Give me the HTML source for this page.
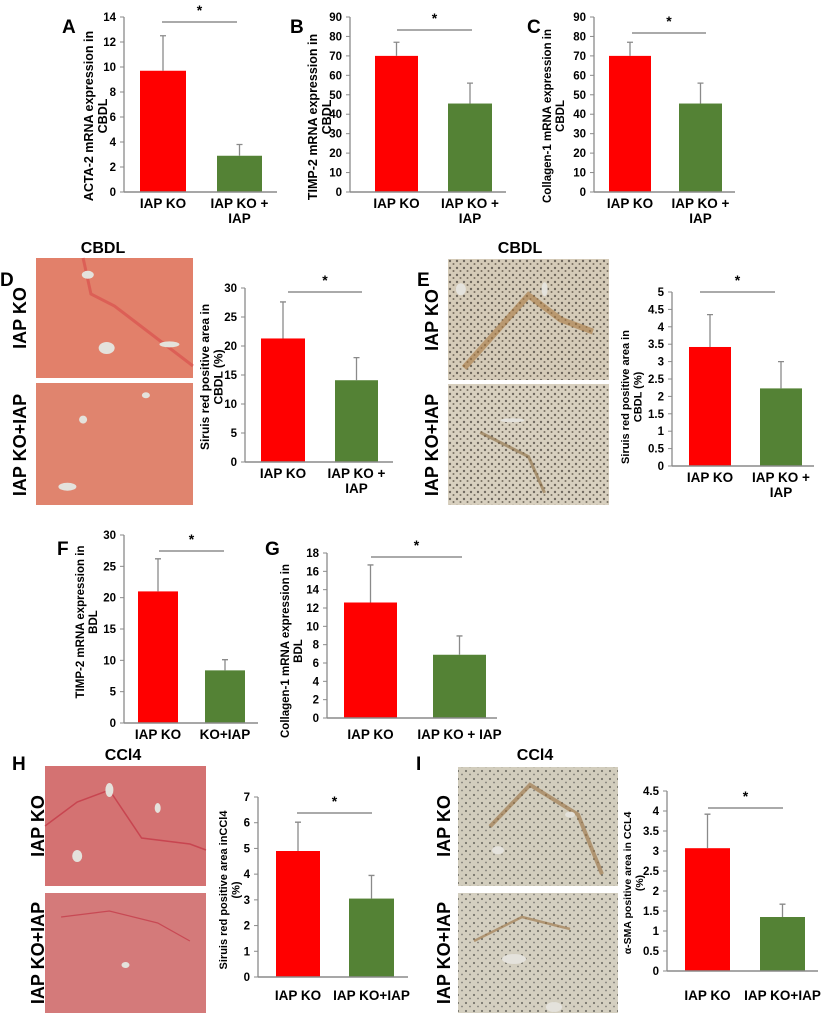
<!DOCTYPE html>
<html><head><meta charset="utf-8"><style>
body{margin:0;background:#fff;width:824px;height:1017px;overflow:hidden}
svg{display:block;font-family:"Liberation Sans",Arial,sans-serif;font-weight:bold}
</style></head><body>
<svg id="fig" width="824" height="1017" viewBox="0 0 824 1017">
<defs>
<pattern id="dots" width="7" height="7" patternUnits="userSpaceOnUse"><circle cx="2" cy="2" r="1.2" fill="#2a2520"/><circle cx="5.5" cy="5" r="1" fill="#3a3025"/></pattern>
<pattern id="dotsI" width="8" height="8" patternUnits="userSpaceOnUse"><circle cx="2" cy="3" r="1.1" fill="#3a3a35"/><circle cx="6" cy="6.5" r="0.9" fill="#444"/></pattern>
</defs>
</svg>
<script>
const svg=document.getElementById('fig');
const NS='http://www.w3.org/2000/svg';
function mk(tag,attrs,parent,text){const e=document.createElementNS(NS,tag);for(const k in attrs)e.setAttribute(k,attrs[k]);if(text!==undefined)e.textContent=text;(parent||svg).appendChild(e);return e;}

// ---------- data ----------
const valsA=[9.7,2.9], errA=[2.8,0.9];
const valsB=[70,45.5], errB=[7,10.5];
const valsC=[70,45.5], errC=[7,10.5];
const valsD=[21.3,14.1], errD=[6.3,3.9];
const valsE=[3.42,2.23], errE=[0.93,0.77];
const valsF=[21,8.4], errF=[5.2,1.7];
const valsG=[12.6,6.9], errG=[4.1,2.05];
const valsH=[4.9,3.05], errH=[1.12,0.9];
const valsI=[3.07,1.35], errI=[0.85,0.32];
const ticksA=[0,2,4,6,8,10,12,14];
const ticksB=[0,10,20,30,40,50,60,70,80,90];
const ticksD=[0,5,10,15,20,25,30];
const ticksE=[0,0.5,1,1.5,2,2.5,3,3.5,4,4.5,5];
const ticksF=[0,5,10,15,20,25,30];
const ticksG=[0,2,4,6,8,10,12,14,16,18];
const ticksH=[0,1,2,3,4,5,6,7];
const ticksI=[0,0.5,1,1.5,2,2.5,3,3.5,4,4.5];

const charts=[
 {id:'a',ax:124,y0:192,y1:17,max:14,end:277,bars:[[140,186],[217,262]],vals:valsA,err:errA,ticks:ticksA,sig:[162,237,22],title:["ACTA-2 mRNA expression in","CBDL"],tfs:12.5,tdx:31,tcy:116,cats:[["IAP KO"],["IAP KO +","IAP"]],cy:208},
 {id:'b',ax:350,y0:192,y1:17,max:90,end:506,bars:[[375,418],[448,492]],vals:valsB,err:errB,ticks:ticksB,sig:[397,472,30],title:["TIMP-2 mRNA expression in","CBDL"],tfs:12.5,tdx:33,tcy:117,cats:[["IAP KO"],["IAP KO +","IAP"]],cy:208},
 {id:'c',ax:594,y0:192,y1:17,max:90,end:735,bars:[[609,651],[679,722]],vals:valsC,err:errC,ticks:ticksB,sig:[632,706,33],title:["Collagen-1 mRNA expression in","CBDL"],tfs:11.5,tdx:43,tcy:116,cats:[["IAP KO"],["IAP KO +","IAP"]],cy:208},
 {id:'d',ax:245,y0:462,y1:288,max:30,end:393,bars:[[261,305],[335,378]],vals:valsD,err:errD,ticks:ticksD,sig:[288,362,292],title:["Siruis red positive area in","CBDL (%)"],tfs:12,tdx:36,tcy:377,cats:[["IAP KO"],["IAP KO +","IAP"]],cy:478},
 {id:'e',ax:672,y0:466,y1:292,max:5,end:814,bars:[[689,731],[760,802]],vals:valsE,err:errE,ticks:ticksE,sig:[700,775,292],title:["Siruis red positive area in","CBDL (%)"],tfs:11,tdx:43,tcy:397,cats:[["IAP KO"],["IAP KO +","IAP"]],cy:482},
 {id:'f',ax:124,y0:723,y1:535,max:30,end:258,bars:[[138,178],[205,245]],vals:valsF,err:errF,ticks:ticksF,sig:[159,224,551],title:["TIMP-2 mRNA expression in","BDL"],tfs:11.5,tdx:40,tcy:622,cats:[["IAP KO"],["KO+IAP"]],cy:739},
 {id:'g',ax:327,y0:718,y1:553,max:18,end:497,bars:[[344,397],[433,486]],vals:valsG,err:errG,ticks:ticksG,sig:[371,462,557],title:["Collagen-1 mRNA expression in","BDL"],tfs:11.5,tdx:38,tcy:651,cats:[["IAP KO"],["IAP KO + IAP"]],cy:739},
 {id:'h',ax:258,y0:977,y1:797,max:7,end:408,bars:[[276,320],[349,394]],vals:valsH,err:errH,ticks:ticksH,sig:[297,372,813],title:["Siruis red positive area inCCl4","(%)"],tfs:11,tdx:31,tcy:890,cats:[["IAP KO"],["IAP KO+IAP"]],cy:1000},
 {id:'i',ax:667,y0:971,y1:791,max:4.5,end:818,bars:[[685,730],[760,805]],vals:valsI,err:errI,ticks:ticksI,sig:[708,783,808],title:["α-SMA positive area in CCL4","(%)"],tfs:10.5,tdx:36,tcy:883,cats:[["IAP KO"],["IAP KO+IAP"]],cy:1000}
];
const colors=['#ff0000','#548235'];

charts.forEach(c=>{
 const g=mk('g',{});
 
 
 const y=v=>c.y0-(v/c.max)*(c.y0-c.y1);
 const ya=mk('line',{x1:c.ax,y1:c.y1,x2:c.ax,y2:c.y0,stroke:'#8a8a8a','stroke-width':1.3},g);
 
 
 c.ticks.forEach(t=>{
  mk('line',{x1:c.ax-4,y1:y(t),x2:c.ax,y2:y(t),stroke:'#8a8a8a','stroke-width':1},g);
  const tl=mk('text',{x:c.ax-8,y:y(t)+4,'text-anchor':'end','font-size':11.5,fill:'#000'},g,String(t));
  
  
 });
 c.vals.forEach((v,i)=>{
  const [x1,x2]=c.bars[i];
  const b=mk('rect',{x:x1,y:y(v),width:x2-x1,height:c.y0-y(v),fill:colors[i]},g);
  
  
  const cx=(x1+x2)/2, top=y(v+c.err[i]);
  const e=mk('path',{d:`M${cx},${y(v)}V${top}M${cx-3},${top}H${cx+3}`,stroke:'#8a8a8a','stroke-width':1.3,fill:'none'},g);
  
  
  c.cats[i].forEach((ln,k)=>{
   const t=mk('text',{x:cx,y:c.cy+k*15,'text-anchor':'middle','font-size':13.5,fill:'#000'},g,ln);
   
   
  });
 });
 const xa=mk('line',{x1:c.ax,y1:c.y0,x2:c.end,y2:c.y0,stroke:'#8a8a8a','stroke-width':1.5},g);
 
 
 const s=mk('line',{x1:c.sig[0],y1:c.sig[2],x2:c.sig[1],y2:c.sig[2],stroke:'#777','stroke-width':1.3},g);
 
 
 const st=mk('text',{x:(c.sig[0]+c.sig[1])/2,y:c.sig[2]-7,'text-anchor':'middle','font-size':14,fill:'#000'},g,'*');
 
 
 const tx=c.ax-c.tdx;
 const tt=mk('text',{transform:`translate(${tx},${c.tcy}) rotate(-90)`,'text-anchor':'middle','font-size':c.tfs,fill:'#000'},g);
 
 
 c.title.forEach((ln,k)=>mk('tspan',{x:0,y:k*(c.tfs+1.5)},tt,ln));
});

[['A',62,33],['B',290,33],['C',527,33],['D',0,286],['E',417,286],['F',57,555],['G',265,555],['H',12,770],['I',416,770]].forEach(p=>{
 const t=mk('text',{x:p[1],y:p[2],'font-size':19,fill:'#000'},svg,p[0]);
 
 
});

function micro(name,x,y,w,h,fill,over,vessels,strand){
 const g=mk('g',{});
 
 
 mk('rect',{x,y,width:w,height:h,fill},g);
 if(over)mk('rect',{x,y,width:w,height:h,fill:over,opacity:0.6},g);
 if(strand)mk('path',{d:strand.map((p,i)=>(i?'L':'M')+(x+p[0]*w)+','+(y+p[1]*h)).join(''),stroke:strand.c,'stroke-width':strand.wd||2,fill:'none',opacity:0.6},g);
 vessels.forEach(v=>mk('ellipse',{cx:x+v[0]*w,cy:y+v[1]*h,rx:v[2],ry:v[3],fill:'#e4e2dc'},g));
}
function lbl(txt,x,y,name){const t=mk('text',{transform:`translate(${x},${y}) rotate(-90)`,'text-anchor':'middle','font-size':18,fill:'#000'},svg,txt);}
function ttl(txt,x,y,name){const t=mk('text',{x,y,'text-anchor':'middle','font-size':16,fill:'#000'},svg,txt);}

let s1=[[0.3,0],[0.35,0.3],[0.5,0.4],[0.8,0.7],[1,0.9]];s1.c='#d84a4a';s1.wd=3;
micro('micrograph-d-iapko',36,258,157,120,'#e2806a',null,[[0.33,0.14,6,4],[0.45,0.75,8,6],[0.85,0.72,10,3]],s1);
micro('micrograph-d-iapko-iap',36,383,157,122,'#e0846e',null,[[0.3,0.3,4,4],[0.2,0.85,9,4],[0.7,0.1,4,3]],null);
let s2=[[0.1,0.9],[0.3,0.6],[0.5,0.3],[0.7,0.5],[0.9,0.6]];s2.c='#a87840';s2.wd=6;
micro('micrograph-e-iapko',448,259,161,121,'#d5cbb8','url(#dots)',[[0.08,0.25,5,6],[0.6,0.25,3,7]],s2);
let s3=[[0.2,0.4],[0.5,0.6],[0.6,0.9]];s3.c='#8a6a40';s3.wd=3;
micro('micrograph-e-iapko-iap',448,384,161,121,'#d8d0bf','url(#dots)',[[0.4,0.3,12,2]],s3);
let s4=[[0,0.5],[0.2,0.3],[0.4,0.2],[0.6,0.6],[0.9,0.65],[1,0.7]];s4.c='#c0283a';s4.wd=1.5;
micro('micrograph-h-iapko',45,766,161,120,'#d47272',null,[[0.2,0.75,5,6],[0.4,0.2,4,7],[0.7,0.35,3,5]],s4);
let s5=[[0.1,0.2],[0.4,0.15],[0.7,0.25],[0.9,0.4]];s5.c='#c0283a';s5.wd=1.2;
micro('micrograph-h-iapko-iap',45,893,161,120,'#d47a7a',null,[[0.5,0.6,4,3]],s5);
let s6=[[0.2,0.5],[0.45,0.15],[0.75,0.4],[0.9,0.9]];s6.c='#9a7040';s6.wd=4;
micro('micrograph-i-iapko',458,767,160,119,'#d2cdbd','url(#dotsI)',[[0.25,0.7,6,4],[0.7,0.4,5,3]],s6);
let s7=[[0.1,0.4],[0.4,0.2],[0.7,0.3]];s7.c='#9a7040';s7.wd=2.5;
micro('micrograph-i-iapko-iap',458,893,160,120,'#d4cfc0','url(#dotsI)',[[0.35,0.55,12,5],[0.6,0.95,8,5]],s7);

ttl('CBDL',103,253,'title-cbdl-d');ttl('CBDL',520,253,'title-cbdl-e');
ttl('CCl4',123,760,'title-ccl4-h');ttl('CCl4',535,760,'title-ccl4-i');
lbl('IAP KO',26,318,'row-label-d-iapko');lbl('IAP KO+IAP',26,445,'row-label-d-iapko-iap');
lbl('IAP KO',438,320,'row-label-e-iapko');lbl('IAP KO+IAP',438,445,'row-label-e-iapko-iap');
lbl('IAP KO',44,826,'row-label-h-iapko');lbl('IAP KO+IAP',44,953,'row-label-h-iapko-iap');
lbl('IAP KO',450,826,'row-label-i-iapko');lbl('IAP KO+IAP',450,953,'row-label-i-iapko-iap');
</script>
</body></html>
